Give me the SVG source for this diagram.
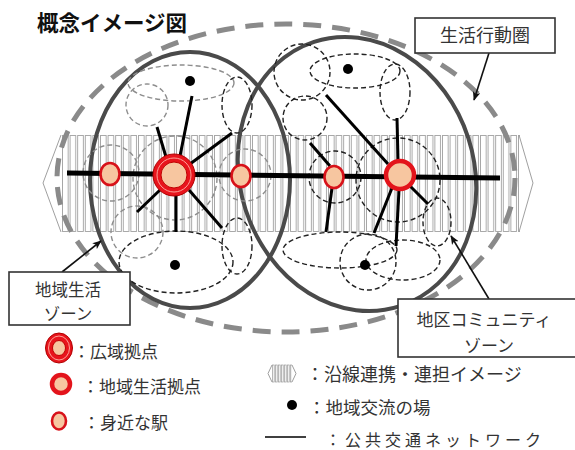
<svg xmlns="http://www.w3.org/2000/svg" width="575" height="450" viewBox="0 0 575 450">
<style>
.t{font-family:"Noto Sans CJK JP","Noto Sans",sans-serif;fill:#333}
.zone{fill:none;stroke:#4a4a4a;stroke-width:4}
.dk{fill:none;stroke:#222;stroke-width:1.4;stroke-dasharray:5 3}
.gy{fill:none;stroke:#8d8d8d;stroke-width:1.4;stroke-dasharray:5 3}
.sp{stroke:#000;stroke-width:3;stroke-linecap:butt}
.box{fill:#fff;stroke:#333;stroke-width:1.6}
.ar{stroke:#111;stroke-width:1.6;fill:none}
.st{fill:#f7c6a0;stroke:#d8121a;stroke-width:2.6}
.hm{fill:#f7c6a0;stroke:#e3141b;stroke-width:4.5}
.edge{fill:none;stroke:#a0a0a0;stroke-width:1}
</style>
<defs>
<pattern id="stripes" x="62" y="0" width="7.6" height="450" patternUnits="userSpaceOnUse">
<rect x="0.5" y="135.5" width="5.6" height="96" fill="#fff" stroke="#a0a0a0" stroke-width="0.9"/>
</pattern>
<pattern id="mstripes" x="272" y="0" width="3" height="450" patternUnits="userSpaceOnUse">
<rect x="0.4" y="365" width="1.8" height="17" fill="#fff" stroke="#999" stroke-width="0.7"/>
</pattern>
<marker id="ah" viewBox="0 0 12 10" refX="11" refY="5" markerWidth="9" markerHeight="8" markerUnits="userSpaceOnUse" orient="auto">
<path d="M0,0 L12,5 L0,10 L3,5 z" fill="#111"/>
</marker>
</defs>
<rect width="575" height="450" fill="#fff"/>

<text class="t" x="37" y="31" font-size="21.5" font-weight="bold" style="fill:#111">概念イメージ図</text>

<g id="band">
<rect x="62" y="134" width="458" height="100" fill="url(#stripes)"/>
<polyline class="edge" points="61,135 43,183 61,232"/>
<polyline class="edge" points="519,135 533,183 519,232"/>
</g>

<g id="activity-area">
<ellipse cx="286" cy="178" rx="229" ry="154" fill="none" stroke="#8a8a8a" stroke-width="5" stroke-dasharray="18 11"/>
</g>

<g id="local-life-zone">
<ellipse class="zone" cx="190" cy="180" rx="100" ry="128"/>
</g>
<g id="community-zone">
<ellipse class="zone" cx="357" cy="174" rx="117" ry="139" transform="rotate(-18 357 174)"/>
</g>

<g id="left-circles">
<circle class="gy" cx="147" cy="105" r="21"/>
<ellipse class="gy" cx="181" cy="83" rx="53" ry="18"/>
<ellipse class="dk" cx="237" cy="105" rx="15" ry="28"/>
<circle class="gy" cx="111" cy="173" r="28"/>
<circle class="gy" cx="175" cy="178" r="42"/>
<circle class="gy" cx="245" cy="175" r="26"/>
<circle class="gy" cx="137" cy="232" r="26"/>
<ellipse class="dk" cx="176" cy="262" rx="57" ry="31"/>
<ellipse class="dk" cx="237" cy="246" rx="15" ry="28"/>
</g>

<g id="right-circles">
<circle class="dk" cx="302" cy="72" r="28"/>
<ellipse class="dk" cx="355" cy="71" rx="45" ry="17"/>
<circle class="dk" cx="305" cy="118" r="22"/>
<ellipse class="dk" cx="395" cy="92" rx="15" ry="28"/>
<circle class="dk" cx="335" cy="177" r="26"/>
<circle class="dk" cx="398" cy="180" r="42"/>
<ellipse class="dk" cx="437" cy="222" rx="14" ry="24"/>
<ellipse class="dk" cx="340" cy="250" rx="57" ry="18"/>
<circle class="dk" cx="368" cy="262" r="28"/>
<ellipse class="dk" cx="403" cy="260" rx="37" ry="20"/>
</g>

<g id="connectors">
<line x1="67" y1="173" x2="500" y2="178" stroke="#000" stroke-width="5"/>
<line class="sp" x1="180" y1="156" x2="192" y2="96"/>
<line class="sp" x1="166" y1="157" x2="157" y2="127"/>
<line class="sp" x1="190" y1="164" x2="232" y2="133"/>
<line class="sp" x1="160" y1="190" x2="137" y2="212"/>
<line class="sp" x1="176" y1="195" x2="176" y2="232"/>
<line class="sp" x1="189" y1="190" x2="222" y2="228"/>
<line class="sp" x1="398" y1="160" x2="397" y2="118"/>
<line class="sp" x1="388" y1="164" x2="326" y2="95"/>
<line class="sp" x1="392" y1="188" x2="374" y2="233"/>
<line class="sp" x1="399" y1="190" x2="396" y2="246"/>
<line class="sp" x1="410" y1="186" x2="428" y2="204"/>
<line class="sp" x1="330" y1="166" x2="310" y2="143"/>
<line class="sp" x1="332" y1="188" x2="326" y2="232"/>
<line class="ar" x1="489" y1="53" x2="474" y2="100" marker-end="url(#ah)"/>
<line class="ar" x1="62" y1="272" x2="101" y2="241" marker-end="url(#ah)"/>
<line class="ar" x1="489" y1="299" x2="451" y2="236" marker-end="url(#ah)"/>
</g>

<g id="stations">
<ellipse class="st" cx="110" cy="174" rx="9.5" ry="11"/>
<ellipse class="st" cx="241" cy="176" rx="9.5" ry="11"/>
<ellipse class="st" cx="334" cy="177" rx="9.5" ry="11"/>
</g>
<g id="hub-major">
<circle cx="174" cy="175" r="21" fill="#e8141c" stroke="#b00000" stroke-width="1"/>
<circle cx="174" cy="175" r="17" fill="none" stroke="#ffb2a6" stroke-width="0.9"/>
<circle cx="174" cy="175" r="13" fill="#f7c6a0" stroke="#c00000" stroke-width="1"/>
</g>
<g id="hub-local">
<circle class="hm" cx="400" cy="175" r="14"/>
</g>
<g id="places">
<circle cx="190" cy="81" r="5"/>
<circle cx="175" cy="265" r="5"/>
<circle cx="348" cy="69" r="5"/>
<circle cx="365" cy="265" r="5"/>
</g>

<g id="label-activity">
<rect class="box" x="415" y="18" width="140" height="35"/>
<text class="t" x="485" y="42" font-size="18" text-anchor="middle">生活行動圏</text>
</g>
<g id="label-life-zone">
<rect class="box" x="9" y="272" width="121" height="53"/>
<text class="t" x="68" y="296" font-size="16.5" text-anchor="middle">地域生活</text>
<text class="t" x="68" y="320" font-size="16.5" text-anchor="middle">ゾーン</text>
</g>
<g id="label-community">
<rect class="box" x="398" y="299" width="182" height="58"/>
<text class="t" x="484" y="326" font-size="17" text-anchor="middle">地区コミュニティ</text>
<text class="t" x="489" y="352" font-size="17" text-anchor="middle">ゾーン</text>
</g>

<g id="legend">
<ellipse cx="59" cy="348" rx="13.5" ry="15" fill="#e8141c" stroke="#b00000" stroke-width="1"/>
<ellipse cx="59" cy="348" rx="10.5" ry="12" fill="none" stroke="#ffb2a6" stroke-width="0.9"/>
<ellipse cx="59" cy="348" rx="6.5" ry="7.5" fill="#f7c6a0" stroke="#c00000" stroke-width="1"/>
<text class="t" x="73" y="358" font-size="17">：広域拠点</text>
<circle class="hm" cx="61" cy="384" r="9" stroke-width="4"/>
<text class="t" x="82" y="393" font-size="17">：地域生活拠点</text>
<ellipse class="st" cx="59" cy="421" rx="7" ry="8.5" stroke-width="2.4"/>
<text class="t" x="83" y="429" font-size="17">：身近な駅</text>
<rect x="272" y="364" width="20" height="19" fill="url(#mstripes)"/>
<polyline class="edge" points="272,365 268,373.5 272,382"/>
<polyline class="edge" points="292,365 296,373.5 292,382"/>
<text class="t" x="306" y="381" font-size="18">：沿線連携・連担イメージ</text>
<circle cx="292" cy="405" r="5"/>
<text class="t" x="308" y="414" font-size="17.5">：地域交流の場</text>
<line x1="265" y1="437" x2="306" y2="437" stroke="#000" stroke-width="1.3"/>
<text class="t" x="325" y="446" font-size="16" letter-spacing="4">：公共交通ネットワーク</text>
</g>
</svg>
